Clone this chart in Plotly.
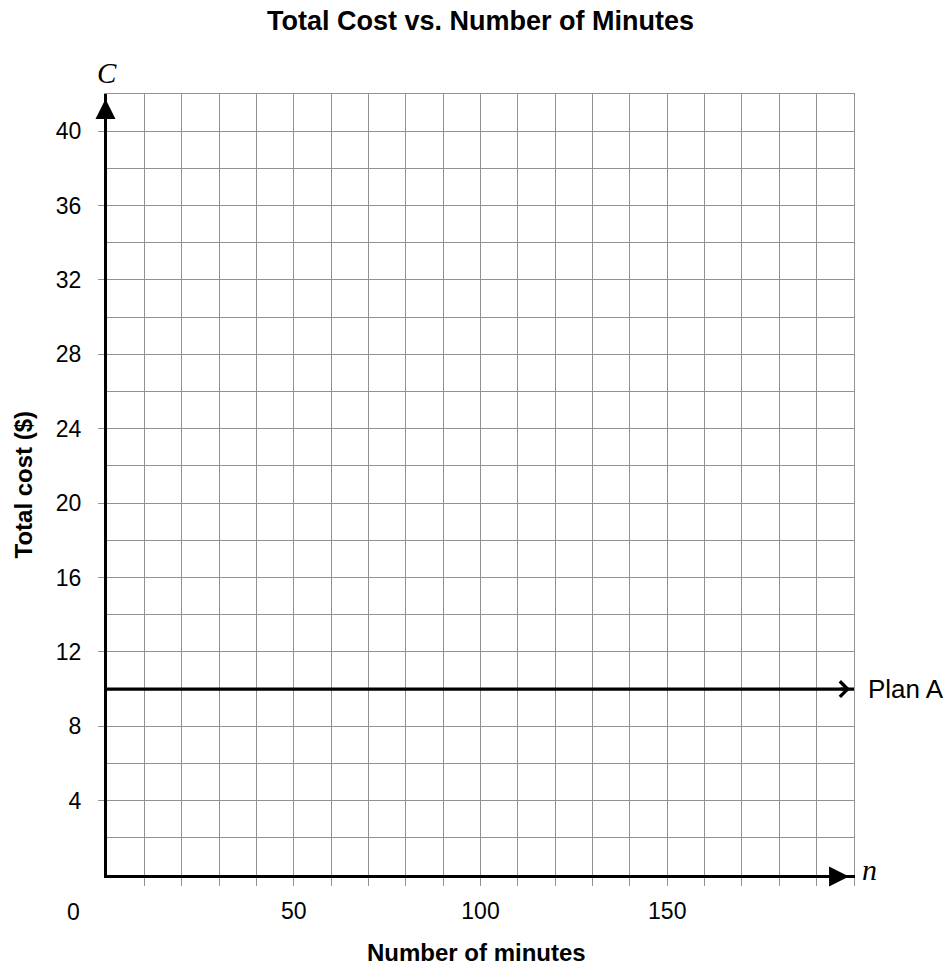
import plotly.graph_objects as go

# ---- data ----
minutes_range = [0, 200]
cost_range = [0, 42]
x_grid_ticks = [10, 20, 30, 40, 50, 60, 70, 80, 90, 100, 110, 120, 130, 140, 150, 160, 170, 180, 190, 200]
x_tick_labels = ["", "", "", "", "50", "", "", "", "", "100", "", "", "", "", "150", "", "", "", "", ""]
y_tick_vals = [4, 8, 12, 16, 20, 24, 28, 32, 36, 40]
y_tick_labels = ["4", "8", "12", "16", "20", "24", "28", "32", "36", "40"]
y_grid_step = 2
plan_a_minutes = [0, 200]
plan_a_cost = [10, 10]

GRID = "#929292"
SANS = "Liberation Sans, Arial, sans-serif"
SERIF = "Liberation Serif, Times New Roman, serif"

fig = go.Figure()

fig.add_trace(go.Scatter(
    x=plan_a_minutes, y=plan_a_cost, mode="lines",
    line=dict(color="black", width=3.2), showlegend=False, hoverinfo="skip",
    cliponaxis=False,
))
# invisible trace for border axes
fig.add_trace(go.Scatter(x=[None], y=[None], xaxis="x2", yaxis="y2",
                         showlegend=False, hoverinfo="skip"))

fig.update_layout(
    width=949, height=965,
    margin=dict(l=107, r=95, t=94, b=90),
    paper_bgcolor="white", plot_bgcolor="white",
    showlegend=False,
    title=dict(text="<b>Total Cost vs. Number of Minutes</b>",
               x=0.5, xref="paper", y=1 - 21 / 965, yref="container",
               xanchor="center", yanchor="middle",
               font=dict(family=SANS, size=27, color="black")),
    xaxis=dict(
        range=minutes_range, tickmode="array",
        tickvals=x_grid_ticks, ticktext=x_tick_labels,
        ticks="outside", ticklen=8, tickwidth=1.2, tickcolor=GRID,
        showgrid=True, gridcolor=GRID, gridwidth=1.2,
        showline=True, linecolor="black", linewidth=3,
        zeroline=False, ticklabelstandoff=5,
        tickfont=dict(family=SANS, size=23, color="black"),
        fixedrange=True,
    ),
    yaxis=dict(
        range=cost_range, tickmode="array",
        tickvals=y_tick_vals, ticktext=y_tick_labels,
        ticks="outside", ticklen=6, tickwidth=1.2, tickcolor=GRID,
        showgrid=True, gridcolor=GRID, gridwidth=1.2,
        minor=dict(dtick=y_grid_step, tick0=0, showgrid=True, gridcolor=GRID, gridwidth=1.2, ticks=""),
        showline=True, linecolor="black", linewidth=3,
        zeroline=False, ticklabelstandoff=12,
        tickfont=dict(family=SANS, size=23, color="black"),
        fixedrange=True,
    ),
    xaxis2=dict(overlaying="x", side="top", range=minutes_range, showline=True,
                linecolor=GRID, linewidth=1.2, showgrid=False, showticklabels=False,
                ticks="", zeroline=False, anchor="y"),
    yaxis2=dict(overlaying="y", side="right", range=cost_range, showline=True,
                linecolor=GRID, linewidth=1.2, showgrid=False, showticklabels=False,
                ticks="", zeroline=False, anchor="x"),
)

annotations = [
    # axis arrows
    dict(x=minutes_range[0], y=cost_range[1], ax=minutes_range[0], ay=cost_range[1] - 1.5,
         xref="x", yref="y", axref="x", ayref="y", text="", showarrow=True, xshift=-1.5,
         arrowhead=2, arrowsize=1.33, arrowwidth=3, arrowcolor="black", standoff=5),
    dict(x=minutes_range[1], y=cost_range[0], ax=minutes_range[1] - 6, ay=cost_range[0],
         xref="x", yref="y", axref="x", ayref="y", text="", showarrow=True, yshift=-1.5,
         arrowhead=2, arrowsize=1.33, arrowwidth=3, arrowcolor="black", standoff=5),
    # Plan A arrow
    dict(x=plan_a_minutes[1], y=plan_a_cost[1], ax=plan_a_minutes[1] - 4, ay=plan_a_cost[1],
         xref="x", yref="y", axref="x", ayref="y", text="", showarrow=True,
         arrowhead=4, arrowsize=1.0, arrowwidth=3, arrowcolor="black", standoff=4),
    dict(x=plan_a_minutes[1], y=plan_a_cost[1], xref="x", yref="y", text="Plan A",
         showarrow=False, xanchor="left", yanchor="middle", xshift=12,
         font=dict(family=SANS, size=26, color="black")),
    # axis letters
    dict(x=minutes_range[0], y=cost_range[1], xref="x", yref="y", text="<i>C</i>",
         showarrow=False, xanchor="center", yanchor="bottom", yshift=3,
         font=dict(family=SERIF, size=29, color="black")),
    dict(x=minutes_range[1], y=cost_range[0], xref="x", yref="y", text="<i>n</i>",
         showarrow=False, xanchor="left", yanchor="middle", xshift=6, yshift=6,
         font=dict(family=SERIF, size=30, color="black")),
    # origin label
    dict(x=minutes_range[0], y=cost_range[0], xref="x", yref="y", text="0",
         showarrow=False, xanchor="right", yanchor="top", xshift=-25, yshift=-22,
         font=dict(family=SANS, size=23, color="black")),
    # axis titles
    dict(x=0.5, y=0, xref="paper", yref="paper", text="<b>Number of minutes</b>",
         showarrow=False, xanchor="center", yanchor="middle", yshift=-77, xshift=-4,
         font=dict(family=SANS, size=24, color="black")),
    dict(x=0, y=0.5, xref="paper", yref="paper", text="<b>Total cost ($)</b>",
         showarrow=False, xanchor="center", yanchor="middle", xshift=-84, textangle=-90,
         font=dict(family=SANS, size=24, color="black")),
]
fig.update_layout(annotations=annotations)

fig.write_html("out.html", config={"displayModeBar": False},
               post_script="document.body.style.margin='0';")
